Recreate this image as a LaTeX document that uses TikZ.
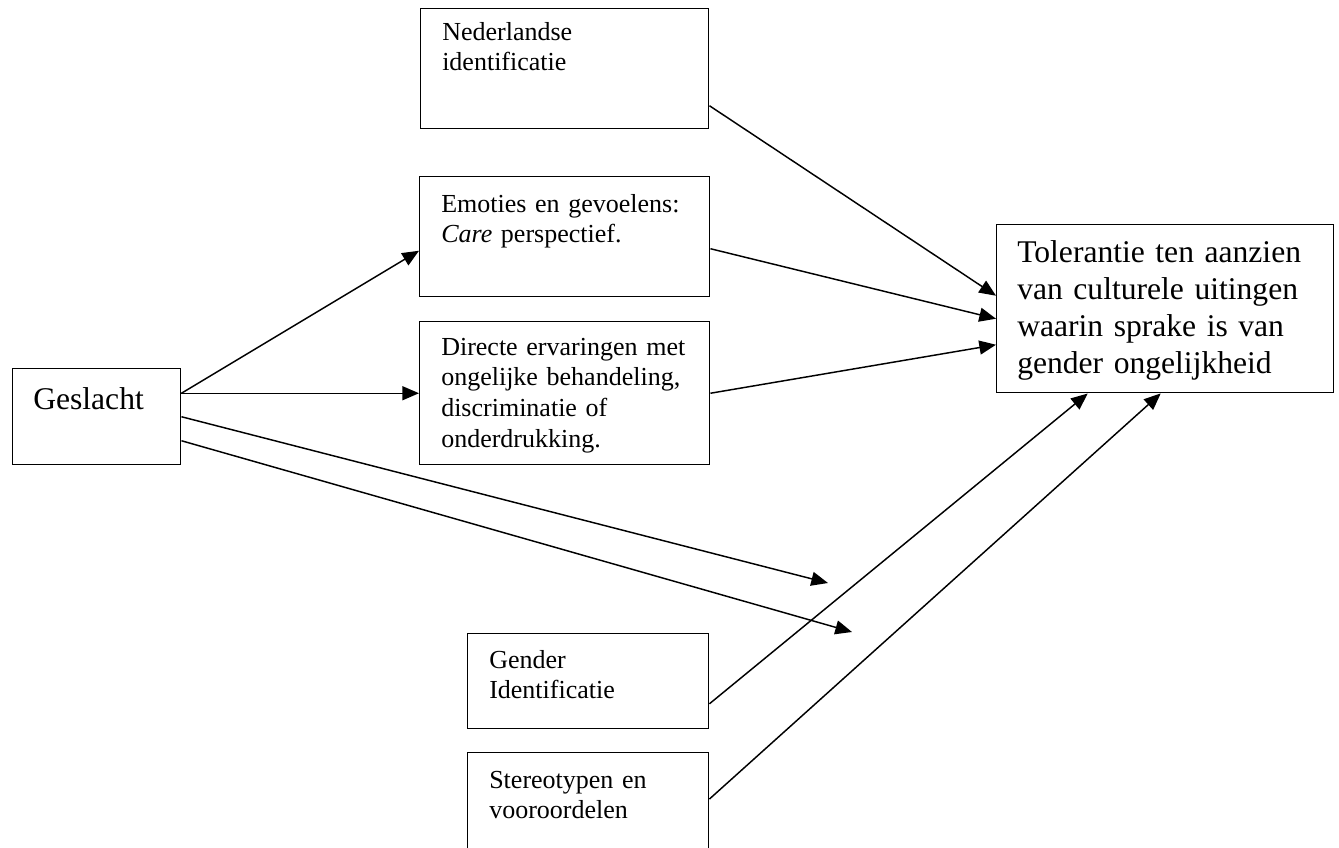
\documentclass[tikz,border=0pt]{standalone}
\usepackage{fontspec}
\setmainfont{Liberation Serif}
\usepackage{tikz}
\usetikzlibrary{arrows.meta,positioning}
\tikzstyle{box} = [rectangle, draw, line width=1.1pt, anchor=north west, inner sep=0pt]
\tikzstyle{txt} = [anchor=base west, inner sep=0pt, align=left, text width=200pt, font=\fontsize{19.5}{23}\selectfont]
\tikzstyle{bigtxt} = [anchor=base west, inner sep=0pt, align=left, text width=236pt, font=\fontsize{23.7}{27.75}\selectfont]
\tikzstyle{arrow} = [line width=1.1pt, -{Triangle[length=12.5pt,width=10.5pt]}]

\begin{document}
\begin{tikzpicture}[x=0.75pt, y=-0.75pt]
\useasboundingbox (0,0) rectangle (1339,847);

% Boxes
\node (ned) [box, minimum width=216pt, minimum height=90pt] at (420,8) {};
\node (emo) [box, minimum width=217.5pt, minimum height=90pt] at (419,176) {};
\node (dir) [box, minimum width=217.5pt, minimum height=107.25pt] at (419,321) {};
\node (ges) [box, minimum width=126pt, minimum height=72pt] at (12,368) {};
\node (tol) [box, minimum width=252.75pt, minimum height=126pt] at (996,224) {};
\node (gen) [box, minimum width=180.75pt, minimum height=71.25pt] at (467,633) {};
\node (ste) [box, minimum width=180.75pt, minimum height=82.5pt] at (467,752) {};

% Texts
\node (nedtxt) [txt] at ([xshift=16.5pt, yshift=-24pt]ned.north west) {Nederlandse\\identificatie};
\node (emotxt) [txt] at ([xshift=16.5pt, yshift=-27pt]emo.north west) {Emoties en gevoelens:\\\textit{Care} perspectief.};
\node (dirtxt) [txt] at ([xshift=16.5pt, yshift=-25.5pt]dir.north west) {Directe ervaringen met\\ongelijke behandeling,\\discriminatie of\\onderdrukking.};
\node (gestxt) [bigtxt] at ([xshift=15.75pt, yshift=-30.75pt]ges.north west) {Geslacht};
\node (toltxt) [bigtxt] at ([xshift=15.75pt, yshift=-28.5pt]tol.north west) {Tolerantie ten aanzien\\van culturele uitingen\\waarin sprake is van\\gender ongelijkheid};
\node (gentxt) [txt] at ([xshift=16.5pt, yshift=-26.25pt]gen.north west) {Gender\\Identificatie};
\node (stetxt) [txt] at ([xshift=16.5pt, yshift=-27pt]ste.north west) {Stereotypen en\\vooroordelen};

% Free ends
\coordinate (end1) at (828,583);
\coordinate (end2) at (852,632);

% Arrows
\draw[arrow] (ges.east |- dir.west) -- ([yshift=-10.5pt]emo.west);
\draw[arrow] (ges.east |- dir.west) -- (dir.west);
\draw[arrow] (ges.east) -- (end1);
\draw[arrow] ([yshift=-18pt]ges.east) -- (end2);
\draw[arrow] ([yshift=-27.75pt]ned.east) -- ([yshift=9.75pt]tol.west);
\draw[arrow] ([yshift=-9pt]emo.east) -- ([yshift=-7.5pt]tol.west);
\draw[arrow] (dir.east) -- ([yshift=-27pt]tol.west);
\draw[arrow] ([yshift=-16.9pt]gen.east) -- ([xshift=-58.1pt]tol.south);
\draw[arrow] ([yshift=-35.25pt]ste.north east) -- ([xshift=-3.4pt]tol.south);
\end{tikzpicture}
\end{document}
